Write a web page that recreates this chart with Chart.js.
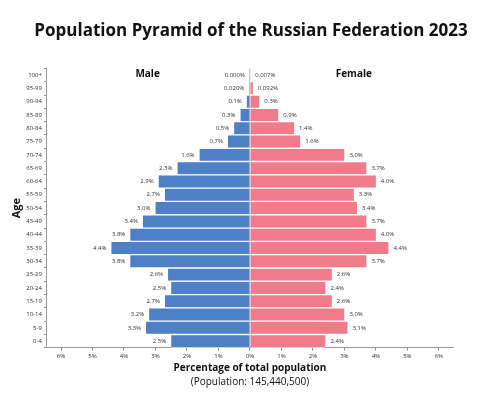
<!DOCTYPE html>
<html>
<head>
<meta charset="utf-8">
<script src="https://cdn.jsdelivr.net/npm/chart.js@4.4.1/dist/chart.umd.min.js"></script>
<style>
  html, body { margin: 0; padding: 0; background: #fff; }
  #wrap { width: 500px; height: 398px; }
</style>
</head>
<body>
<div id="wrap"><canvas id="chart"></canvas></div>
<script>
// age groups, top row first
const ageGroups = ["100+", "95-99", "90-94", "85-89", "80-84", "75-79", "70-74", "65-69", "60-64", "55-59",
  "50-54", "45-49", "40-44", "35-39", "30-34", "25-29", "20-24", "15-19", "10-14", "5-9", "0-4"]

// share of total population, %
const maleShare = [0.000, 0.020, 0.1, 0.3, 0.5, 0.7, 1.6, 2.3, 2.9, 2.7,
  3.0, 3.4, 3.8, 4.4, 3.8, 2.6, 2.5, 2.7, 3.2, 3.3, 2.5]
const femaleShare = [0.007, 0.092, 0.3, 0.9, 1.4, 1.6, 3.0, 3.7, 4.0, 3.3,
  3.4, 3.7, 4.0, 4.4, 3.7, 2.6, 2.4, 2.6, 3.0, 3.1, 2.4]

// labels as printed next to the bars
const maleText = ["0.000%", "0.020%", "0.1%", "0.3%", "0.5%", "0.7%", "1.6%", "2.3%", "2.9%", "2.7%",
  "3.0%", "3.4%", "3.8%", "4.4%", "3.8%", "2.6%", "2.5%", "2.7%", "3.2%", "3.3%", "2.5%"]
const femaleText = ["0.007%", "0.092%", "0.3%", "0.9%", "1.4%", "1.6%", "3.0%", "3.7%", "4.0%", "3.3%",
  "3.4%", "3.7%", "4.0%", "4.4%", "3.7%", "2.6%", "2.4%", "2.6%", "3.0%", "3.1%", "2.4%"]

const FONT = "'Open Sans', sans-serif"

const barLabels = {
  id: "barLabels",
  afterDatasetsDraw(chart) {
    const ctx = chart.ctx
    ctx.save()
    ctx.font = "6px " + FONT
    ctx.fillStyle = "#333"
    ctx.textBaseline = "middle"
    chart.getDatasetMeta(0).data.forEach((bar, i) => {
      ctx.textAlign = "right"
      ctx.fillText(maleText[i], bar.x - 5, bar.y)
    })
    chart.getDatasetMeta(1).data.forEach((bar, i) => {
      ctx.textAlign = "left"
      ctx.fillText(femaleText[i], bar.x + 5, bar.y)
    })

    // side headers
    const x = chart.scales.x
    const top = chart.chartArea.top
    ctx.fillStyle = "#111"
    ctx.textAlign = "center"
    ctx.font = "bold 10px " + FONT
    ctx.fillText("Male", x.getPixelForValue(-3.25), top + 6)
    ctx.fillText("Female", x.getPixelForValue(3.3), top + 6)

    // x axis caption
    const cx = (chart.chartArea.left + chart.chartArea.right) / 2
    ctx.fillText("Percentage of total population", cx, 368)
    ctx.font = "10px " + FONT
    ctx.fillText("(Population: 145,440,500)", cx, 382)
    ctx.restore()
  }
}

new Chart(document.getElementById("chart"), {
  type: "bar",
  data: {
    labels: ageGroups,
    datasets: [
      {
        label: "Male",
        data: maleShare.map(v => -v),
        backgroundColor: "#4d80c4",
        borderColor: "#fff",
        borderWidth: { top: 1, bottom: 1 },
        borderSkipped: false,
        barPercentage: 1,
        categoryPercentage: 1
      },
      {
        label: "Female",
        data: femaleShare,
        backgroundColor: "#f07c89",
        borderColor: "#fff",
        borderWidth: { top: 1, bottom: 1 },
        borderSkipped: false,
        barPercentage: 1,
        categoryPercentage: 1
      }
    ]
  },
  options: {
    indexAxis: "y",
    responsive: true,
    maintainAspectRatio: false,
    animation: false,
    layout: { padding: { left: 10, right: 8, bottom: 36 } },
    plugins: {
      legend: { display: false },
      tooltip: { enabled: false },
      title: {
        display: true,
        text: "Population Pyramid of the Russian Federation 2023",
        color: "#111",
        font: { family: FONT, size: 17, weight: "bold" },
        padding: { top: 21, bottom: 27 }
      }
    },
    scales: {
      x: {
        stacked: true,
        min: -6.45,
        max: 6.45,
        border: { color: "#999", width: 1 },
        grid: {
          drawOnChartArea: true,
          color: c => (c.tick && c.tick.value === 0 ? "#ccc" : "transparent"),
          tickColor: "#999",
          tickLength: 3
        },
        ticks: {
          stepSize: 1,
          includeBounds: false,
          color: "#333",
          padding: 2,
          font: { family: FONT, size: 6 },
          callback: v => Math.abs(v) + "%"
        }
      },
      y: {
        stacked: true,
        border: { color: "#999", width: 1 },
        grid: { drawOnChartArea: false, tickColor: "#999", tickLength: 3 },
        ticks: { color: "#333", padding: 2, font: { family: FONT, size: 6 } },
        title: {
          display: true,
          text: "Age",
          color: "#111",
          padding: { top: 0, bottom: 1 },
          font: { family: FONT, size: 11, weight: "bold" }
        }
      },
      // empty right margin so the title stays centred on the page
      spacer: {
        type: "linear",
        axis: "y",
        position: "right",
        grid: { display: false },
        border: { display: false },
        ticks: { display: false },
        afterFit: s => { s.width = 39 }
      }
    }
  },
  plugins: [barLabels]
})
</script>
</body>
</html>
